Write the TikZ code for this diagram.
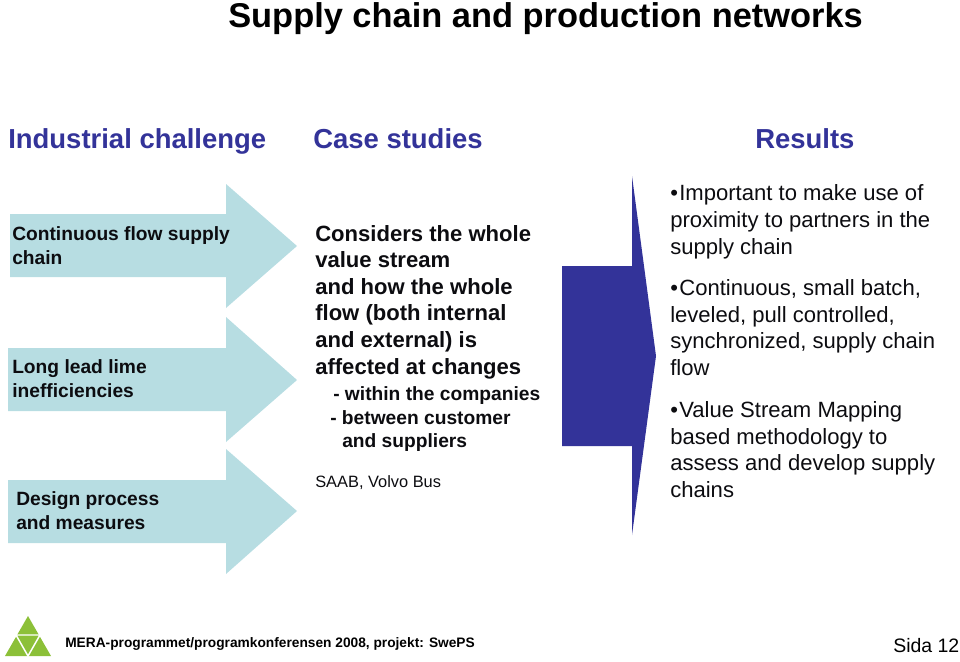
\documentclass[tikz,border=0pt]{standalone}
\usepackage{fontspec}
\setmainfont{Liberation Sans}
\definecolor{headblue}{HTML}{333399}
\definecolor{arrowteal}{HTML}{B7DDE2}
\definecolor{logogreen}{HTML}{8CC038}
\definecolor{textdark}{HTML}{0C0C10}
\newcommand{\bulletmark}{\makebox[6.8pt][l]{•}}
\tikzset{
  txt/.style={anchor=base west,inner sep=0pt,align=left},
  heading/.style={txt,text=headblue,font=\bfseries\fontsize{20.6}{24}\selectfont},
  challenge/.style={txt,text=textdark,font=\bfseries\fontsize{14.4}{17.5}\selectfont},
  casetext/.style={txt,text=textdark,font=\bfseries\fontsize{16.55}{19.9}\selectfont},
  resulttext/.style={txt,text=textdark,font=\fontsize{16.55}{19.9}\selectfont},
}
\begin{document}
\begin{tikzpicture}[x=0.75pt,y=-0.75pt]
\useasboundingbox (0,0) rectangle (960,661);
% side arrows
\fill[arrowteal] (10,214) -- (226,214) -- (226,184) -- (297,246) -- (226,308) -- (226,277) -- (10,277) -- cycle;
\fill[arrowteal] (8,348) -- (226,348) -- (226,317) -- (297,380) -- (226,442) -- (226,411) -- (8,411) -- cycle;
\fill[arrowteal] (8,480) -- (226,480) -- (226,449) -- (297,511) -- (226,574) -- (226,543) -- (8,543) -- cycle;
\fill[headblue] (562,266) -- (632,266) -- (632,176) -- (656,356) -- (632,535) -- (632,446) -- (562,446) -- cycle;
% logo
\fill[logogreen] (28,616) -- (51,656) -- (5,656) -- cycle;
\draw[white,line width=1.1pt] (16,635) -- (40,635) -- (28,656) -- cycle;
% titles
\node[txt,text=black,font=\bfseries\fontsize{25.8}{32}\selectfont] (title) at (228,27) {Supply chain and production networks};
\node[heading] (challengehead) at (8,148) {Industrial challenge};
\node[heading] (casehead) at (313,148) {Case studies};
\node[heading] (resulthead) at (755,148) {Results};
% arrow texts
\node[challenge] (flow) at (12,264) {Continuous flow supply\\chain};
\node[challenge] (lead) at (12,397) {Long lead lime\\inefficiencies};
\node[challenge] (design) at (16,529) {Design process\\and measures};
% case studies
\node[casetext] (considers) at (315,374) {Considers the whole\\value stream\\and how the whole\\flow (both internal\\and external) is\\affected at changes};
\node[challenge] (within) at (333,400) {- within the companies};
\node[challenge] (between) at (330,424) {- between customer};
\node[challenge] (suppliers) at (342,447) {and suppliers};
\node[txt,text=textdark,font=\fontsize{12.3}{15}\selectfont] (saab) at (315,487) {SAAB, Volvo Bus};
% results
\node[resulttext] (proximity) at (670,254) {\bulletmark Important to make use of\\proximity to partners in the\\supply chain};
\node[resulttext] (batch) at (670,375.5) {\bulletmark Continuous, small batch,\\leveled, pull controlled,\\synchronized, supply chain\\flow};
\node[resulttext] (mapping) at (670,497.5) {\bulletmark Value Stream Mapping\\based methodology to\\assess and develop supply\\chains};
% footer
\node[txt,text=black,font=\bfseries\fontsize{10.3}{14}\selectfont] (footer) at (65,647) {MERA-programmet/programkonferensen 2008, projekt: SwePS};
\node[txt,text=black,font=\fontsize{14.6}{18}\selectfont] (page) at (893,652) {Sida 12};
\end{tikzpicture}
\end{document}
